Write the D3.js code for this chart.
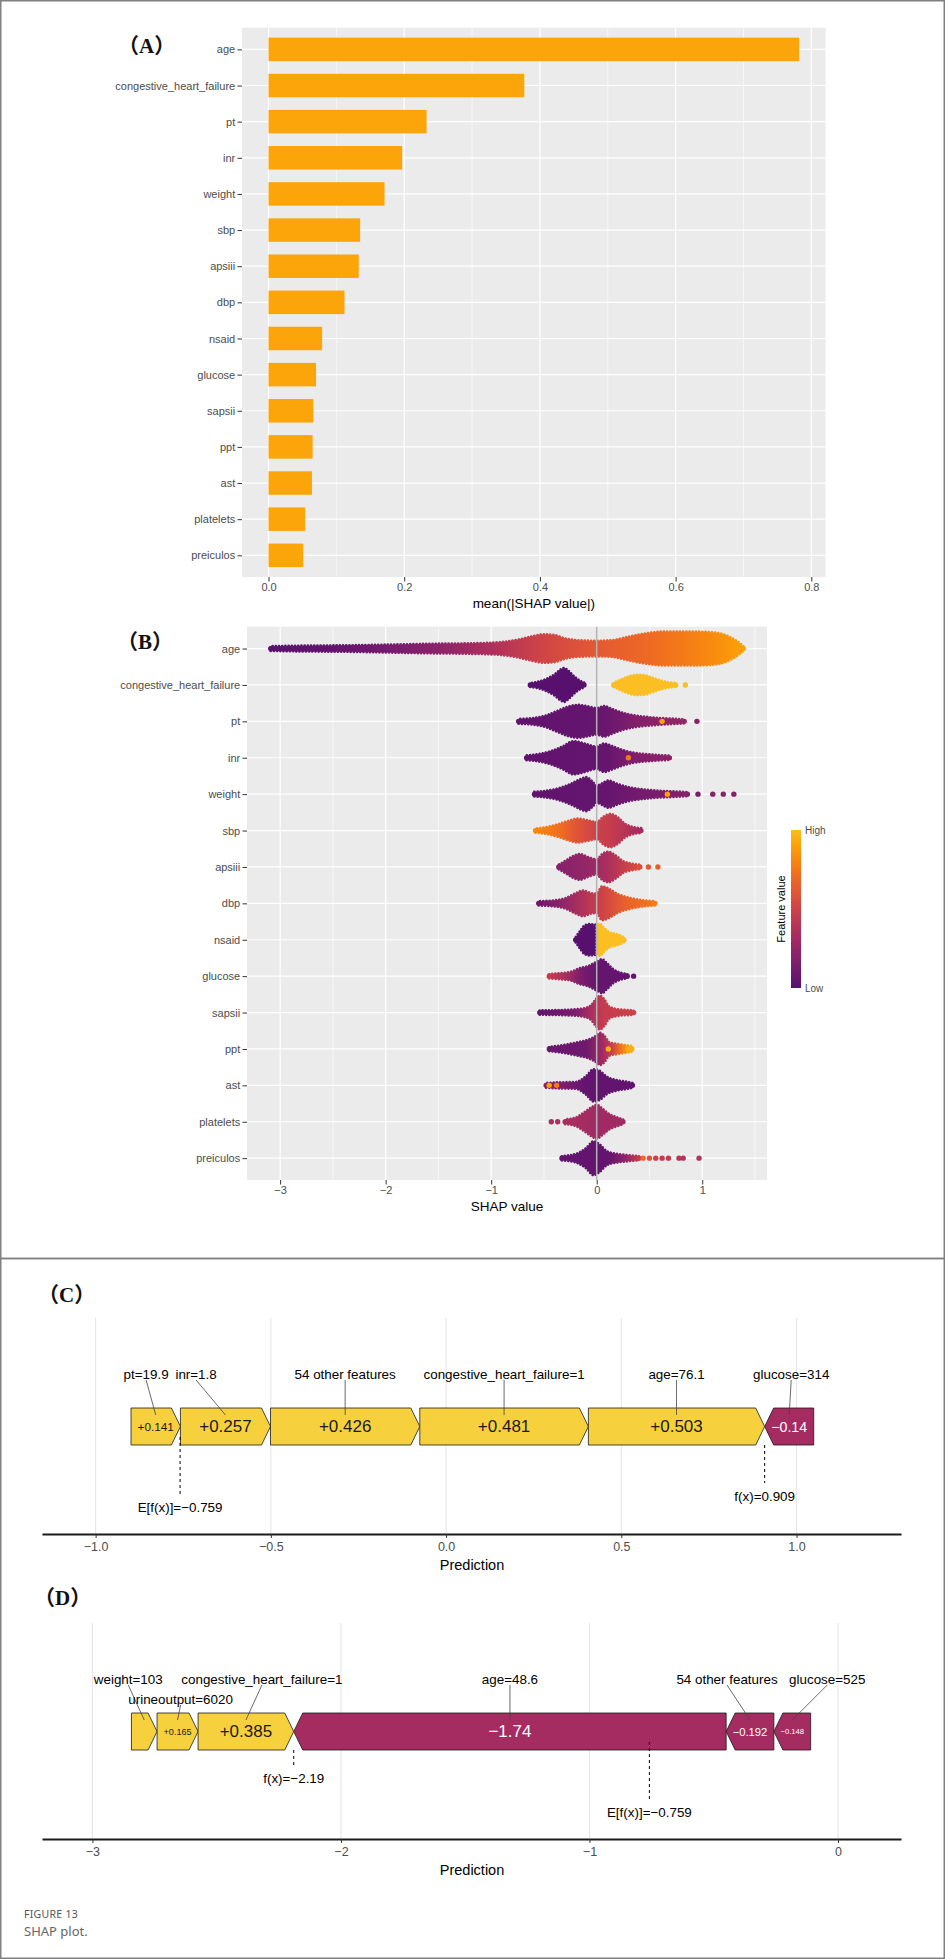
<!DOCTYPE html>
<html>
<head>
<meta charset="utf-8">
<script src="https://cdn.jsdelivr.net/npm/d3@7"></script>
<style>
  body { margin: 0; background: #fff; }
</style>
</head>
<body>
<svg id="chart" width="945" height="1959" font-family="'Liberation Sans',Arial,sans-serif"></svg>
<script>
// ---------- data ----------
const features = ["age", "congestive_heart_failure", "pt", "inr", "weight", "sbp", "apsiii", "dbp",
  "nsaid", "glucose", "sapsii", "ppt", "ast", "platelets", "preiculos"];
const meanAbsShap = [0.782, 0.377, 0.233, 0.197, 0.171, 0.135, 0.133, 0.112,
  0.079, 0.070, 0.066, 0.065, 0.064, 0.054, 0.051];
const importanceTicks = [0, 0.2, 0.4, 0.6, 0.8];
const importanceMinor = [0.1, 0.3, 0.5, 0.7];
const shapTicks = [-3, -2, -1, 0, 1];
const shapMinor = [-2.5, -1.5, -0.5, 0.5, 1.5];

// beeswarm outline: [feature, [[shap, relative density]], [[shap, feature value 0..1]]]
const swarmBlobs = [
  ["age",
    [[-3.09,0.14],[-2.8,0.17],[-2.4,0.19],[-2.0,0.23],[-1.6,0.28],[-1.2,0.31],[-0.95,0.36],[-0.75,0.52],
     [-0.6,0.74],[-0.5,0.84],[-0.4,0.8],[-0.3,0.6],[-0.15,0.48],[0.0,0.46],[0.15,0.5],[0.3,0.7],
     [0.45,0.88],[0.65,1.0],[0.9,1.0],[1.1,0.95],[1.22,0.8],[1.3,0.55],[1.36,0.3],[1.39,0.14]],
    [[-3.09,0.02],[-2.5,0.05],[-2.0,0.12],[-1.5,0.22],[-1.0,0.36],[-0.5,0.52],[0,0.62],[0.5,0.7],[1.0,0.8],[1.39,0.9]]],
  ["congestive_heart_failure",
    [[-0.63,0.12],[-0.55,0.2],[-0.47,0.38],[-0.4,0.62],[-0.34,0.92],[-0.31,1.0],[-0.27,0.85],[-0.22,0.55],[-0.17,0.3],[-0.12,0.14]],
    [[-0.63,0],[-0.12,0]]],
  ["congestive_heart_failure",
    [[0.16,0.12],[0.22,0.3],[0.3,0.5],[0.38,0.6],[0.45,0.58],[0.52,0.45],[0.6,0.28],[0.68,0.16],[0.75,0.12]],
    [[0.16,1],[0.75,1]]],
  ["pt",
    [[-0.74,0.14],[-0.6,0.2],[-0.48,0.35],[-0.38,0.6],[-0.28,0.85],[-0.18,0.97],[-0.08,0.88],[0.0,0.78],
     [0.07,0.9],[0.15,0.72],[0.25,0.5],[0.35,0.36],[0.5,0.25],[0.65,0.18],[0.78,0.14],[0.83,0.12]],
    [[-0.74,0.04],[-0.2,0.05],[0.1,0.08],[0.3,0.15],[0.55,0.22],[0.83,0.25]]],
  ["inr",
    [[-0.665,0.14],[-0.55,0.22],[-0.42,0.42],[-0.32,0.68],[-0.22,0.98],[-0.12,0.85],[0.0,0.66],[0.07,0.84],
     [0.15,0.68],[0.25,0.45],[0.35,0.3],[0.5,0.2],[0.62,0.15],[0.69,0.12]],
    [[-0.665,0.04],[0.1,0.06],[0.3,0.15],[0.69,0.22]]],
  ["weight",
    [[-0.59,0.14],[-0.48,0.2],[-0.36,0.35],[-0.25,0.6],[-0.15,0.9],[-0.1,1.0],[-0.04,0.75],[0.0,0.5],
     [0.04,0.6],[0.11,0.8],[0.2,0.6],[0.3,0.42],[0.45,0.28],[0.6,0.2],[0.75,0.16],[0.86,0.12]],
    [[-0.59,0.04],[0.1,0.06],[0.4,0.12],[0.86,0.2]]],
  ["sbp",
    [[-0.58,0.13],[-0.48,0.2],[-0.38,0.35],[-0.28,0.55],[-0.18,0.7],[-0.08,0.6],[0.0,0.5],[0.06,0.8],
     [0.13,0.98],[0.2,0.78],[0.27,0.4],[0.34,0.22],[0.42,0.14]],
    [[-0.58,0.82],[-0.35,0.72],[-0.2,0.6],[0,0.5],[0.15,0.45],[0.42,0.32]]],
  ["apsiii",
    [[-0.36,0.14],[-0.3,0.35],[-0.22,0.65],[-0.16,0.76],[-0.08,0.58],[0.0,0.45],[0.05,0.75],[0.11,0.9],
     [0.18,0.68],[0.25,0.35],[0.33,0.2],[0.41,0.13]],
    [[-0.36,0.2],[-0.1,0.25],[0.1,0.35],[0.3,0.5],[0.41,0.58]]],
  ["dbp",
    [[-0.55,0.13],[-0.4,0.18],[-0.3,0.3],[-0.2,0.6],[-0.13,0.76],[-0.05,0.6],[0.0,0.58],[0.05,1.0],
     [0.12,0.85],[0.2,0.55],[0.3,0.35],[0.4,0.22],[0.5,0.15],[0.55,0.13]],
    [[-0.55,0.1],[-0.3,0.25],[-0.1,0.4],[0.05,0.5],[0.25,0.65],[0.55,0.75]]],
  ["nsaid",
    [[-0.2,0.15],[-0.16,0.5],[-0.12,0.82],[-0.07,0.92],[-0.02,0.9],[0.0,0.85]],
    [[-0.2,0],[0,0]]],
  ["nsaid",
    [[0.0,0.85],[0.03,0.95],[0.07,0.7],[0.12,0.45],[0.18,0.35],[0.23,0.25],[0.26,0.14]],
    [[0,1],[0.26,1]]],
  ["glucose",
    [[-0.45,0.13],[-0.35,0.18],[-0.25,0.25],[-0.17,0.45],[-0.08,0.6],[0.0,0.85],[0.05,1.0],[0.1,0.75],
     [0.16,0.4],[0.22,0.22],[0.29,0.13]],
    [[-0.45,0.45],[-0.3,0.35],[-0.15,0.15],[0.0,0.06],[0.29,0.05]]],
  ["sapsii",
    [[-0.54,0.13],[-0.3,0.16],[-0.15,0.22],[-0.06,0.4],[0.0,0.85],[0.03,1.0],[0.07,0.8],[0.12,0.35],
     [0.2,0.2],[0.3,0.15],[0.35,0.13]],
    [[-0.54,0.05],[-0.2,0.15],[-0.05,0.35],[0.05,0.45],[0.35,0.5]]],
  ["ppt",
    [[-0.45,0.13],[-0.3,0.25],[-0.18,0.4],[-0.08,0.55],[0.0,0.8],[0.03,0.95],[0.07,0.8],[0.12,0.4],
     [0.2,0.3],[0.28,0.22],[0.33,0.18]],
    [[-0.45,0.08],[-0.1,0.1],[0.05,0.3],[0.15,0.5],[0.25,0.8],[0.33,0.95]]],
  ["ast",
    [[-0.48,0.14],[-0.35,0.18],[-0.2,0.2],[-0.1,0.55],[-0.03,0.95],[0.03,0.85],[0.1,0.5],[0.2,0.3],
     [0.3,0.2],[0.34,0.14]],
    [[-0.48,0.2],[-0.3,0.15],[-0.1,0.05],[0.34,0.05]]],
  ["platelets",
    [[-0.3,0.14],[-0.2,0.25],[-0.12,0.55],[-0.05,0.85],[0.0,1.0],[0.05,0.8],[0.12,0.45],[0.2,0.25],[0.25,0.14]],
    [[-0.3,0.35],[0,0.3],[0.25,0.3]]],
  ["preiculos",
    [[-0.33,0.13],[-0.2,0.25],[-0.1,0.6],[-0.03,1.0],[0.03,0.8],[0.1,0.4],[0.2,0.25],[0.3,0.18],[0.4,0.13]],
    [[-0.33,0.05],[0.1,0.05],[0.25,0.2],[0.4,0.45]]]
];
// single points outside the dense swarms: [feature, shap, feature value]
const swarmDots = [
  ["congestive_heart_failure", 0.84, 1], ["pt", 0.62, 0.9], ["pt", 0.95, 0.2], ["inr", 0.3, 0.75],
  ["weight", 0.67, 0.9], ["weight", 0.96, 0.15], ["weight", 1.1, 0.2], ["weight", 1.2, 0.2], ["weight", 1.3, 0.2],
  ["apsiii", 0.49, 0.62], ["apsiii", 0.58, 0.65], ["dbp", 0.55, 0.78], ["glucose", 0.35, 0.05],
  ["ppt", 0.11, 0.95], ["ppt", 0.3, 0.95], ["ast", -0.45, 0.9], ["ast", -0.38, 0.75],
  ["platelets", -0.43, 0.35], ["platelets", -0.37, 0.35],
  ["preiculos", 0.44, 0.7], ["preiculos", 0.5, 0.6], ["preiculos", 0.56, 0.5], ["preiculos", 0.62, 0.45],
  ["preiculos", 0.68, 0.45], ["preiculos", 0.78, 0.4], ["preiculos", 0.82, 0.4], ["preiculos", 0.97, 0.4]
];
const legendLabels = ["Low", "High"];

// force plot (C)
const forceCLabels = ["pt=19.9", "inr=1.8", "54 other features", "congestive_heart_failure=1", "age=76.1", "glucose=314"];
const forceCShap = [0.141, 0.257, 0.426, 0.481, 0.503, -0.14];
const forceCfx = 0.909;
const forceCBase = -0.759;
const forceCTicks = [-1.0, -0.5, 0.0, 0.5, 1.0];
// force plot (D)
const forceDLabels = ["weight=103", "urineoutput=6020", "congestive_heart_failure=1", "age=48.6", "54 other features", "glucose=525"];
const forceDShap = [0.103, 0.165, 0.385, -1.74, -0.192, -0.148];
const forceDfx = -2.19;
const forceDBase = -0.759;
const forceDTicks = [-3, -2, -1, 0];

// ---------- drawing ----------
const svg = d3.select("#chart");
const inferno = t => d3.interpolateInferno(0.25 + 0.6 * t);
const expand = ([a, b]) => [a - (b - a) * 0.05, b + (b - a) * 0.05];
const tickGray = "#4d4d4d";
const sans = "'Liberation Sans',Arial,sans-serif";

// page frames
svg.append("rect").attr("x", 0.75).attr("y", 0.75).attr("width", 943.5).attr("height", 1257.75)
  .attr("fill", "none").attr("stroke", "#808080").attr("stroke-width", 1.5);
svg.append("rect").attr("x", 0.75).attr("y", 1258.5).attr("width", 943.5).attr("height", 699.75)
  .attr("fill", "none").attr("stroke", "#808080").attr("stroke-width", 1.5);

function panelLabel(txt, x, y) {
  svg.append("text").attr("x", x).attr("y", y)
    .attr("font-family", "'Liberation Serif','Noto Sans CJK SC',serif")
    .attr("font-weight", "bold").attr("font-size", 21).attr("fill", "#111").text(txt);
}

function styleAxis(g, size) {
  g.select(".domain").remove();
  g.selectAll(".tick line").attr("stroke", "#333").attr("stroke-width", 1);
  g.selectAll(".tick text").attr("fill", tickGray).attr("font-size", size).attr("font-family", sans);
}

function ggPanel(p, x, y, ticks, minor) {
  svg.append("rect").attr("x", p.left).attr("y", p.top)
    .attr("width", p.right - p.left).attr("height", p.bottom - p.top).attr("fill", "#ebebeb");
  const grid = svg.append("g").attr("stroke", "#fff");
  grid.selectAll(null).data(minor).join("line")
    .attr("x1", d => x(d)).attr("x2", d => x(d)).attr("y1", p.top).attr("y2", p.bottom).attr("stroke-width", 0.6);
  grid.selectAll(null).data(ticks).join("line")
    .attr("x1", d => x(d)).attr("x2", d => x(d)).attr("y1", p.top).attr("y2", p.bottom).attr("stroke-width", 1.2);
  grid.selectAll(null).data(features).join("line")
    .attr("x1", p.left).attr("x2", p.right).attr("y1", d => y(d)).attr("y2", d => y(d)).attr("stroke-width", 1.2);
}

function ggAxes(p, x, y, ticks, fmt, title) {
  const ay = svg.append("g").attr("transform", `translate(${p.left},0)`)
    .call(d3.axisLeft(y).tickSize(4.5).tickPadding(2.3));
  styleAxis(ay, 11);
  const ax = svg.append("g").attr("transform", `translate(0,${p.bottom})`)
    .call(d3.axisBottom(x).tickValues(ticks).tickFormat(fmt).tickSize(4.5).tickPadding(1.8));
  styleAxis(ax, 11);
  svg.append("text").attr("x", (p.left + p.right) / 2).attr("y", p.bottom + 31)
    .attr("text-anchor", "middle").attr("font-size", 13.5).attr("fill", "#000").text(title);
}

// ---- (A) importance bars ----
const pA = { left: 242, right: 825.6, top: 27.7, bottom: 577 };
const xA = d3.scaleLinear().domain(expand([0, d3.max(meanAbsShap)])).range([pA.left, pA.right]);
const yA = d3.scalePoint().domain(features).range([pA.top, pA.bottom]).padding(0.6);
ggPanel(pA, xA, yA, importanceTicks, importanceMinor);
const barH = yA.step() * 0.65;
svg.append("g").selectAll("rect").data(features).join("rect")
  .attr("x", xA(0)).attr("y", d => yA(d) - barH / 2)
  .attr("width", (d, i) => xA(meanAbsShap[i]) - xA(0)).attr("height", barH)
  .attr("fill", "#fca50a");
ggAxes(pA, xA, yA, importanceTicks, d3.format(".1f"), "mean(|SHAP value|)");
panelLabel("（A）", 118, 53);

// ---- (B) beeswarm ----
const pB = { left: 247, right: 767, top: 626.7, bottom: 1180 };
const allShap = swarmBlobs.flatMap(b => b[1].map(d => d[0])).concat(swarmDots.map(d => d[1]));
const xB = d3.scaleLinear().domain(expand(d3.extent(allShap))).range([pB.left, pB.right]);
const yB = d3.scalePoint().domain(features).range([pB.top, pB.bottom]).padding(0.6);
const halfH = d3.scaleLinear().domain([0, 1]).range([0, 17]);
ggPanel(pB, xB, yB, shapTicks, shapMinor);

const defs = svg.append("defs");
const swarm = svg.append("g");
swarmBlobs.forEach(([feat, prof, cols], k) => {
  const cy = yB(feat);
  const x1 = xB(prof[0][0]), x2 = xB(prof[prof.length - 1][0]);
  const id = "sw" + k;
  const grad = defs.append("linearGradient").attr("id", id)
    .attr("gradientUnits", "userSpaceOnUse").attr("x1", x1).attr("x2", x2).attr("y1", 0).attr("y2", 0);
  grad.selectAll("stop").data(cols).join("stop")
    .attr("offset", d => (xB(d[0]) - x1) / (x2 - x1))
    .attr("stop-color", d => inferno(d[1]));
  const area = d3.area().x(d => xB(d[0]))
    .y0(d => cy - halfH(d[1])).y1(d => cy + halfH(d[1])).curve(d3.curveMonotoneX);
  swarm.append("path").attr("d", area(prof)).attr("fill", `url(#${id})`)
    .attr("stroke", `url(#${id})`).attr("stroke-width", 2.6)
    .attr("stroke-linecap", "round").attr("stroke-dasharray", "0.1 3.1");
  // rounded tips like the outermost points (only where the swarm is thin)
  [[prof[0], cols[0]], [prof[prof.length - 1], cols[cols.length - 1]]]
    .filter(([p]) => p[1] < 0.3)
    .forEach(([p, c]) => {
      swarm.append("circle").attr("cx", xB(p[0])).attr("cy", cy)
        .attr("r", Math.max(2.6, halfH(p[1]))).attr("fill", inferno(c[1]));
    });
});
swarm.selectAll("circle.dot").data(swarmDots).join("circle").attr("class", "dot")
  .attr("cx", d => xB(d[1])).attr("cy", d => yB(d[0])).attr("r", 2.7)
  .attr("fill", d => inferno(d[2]));
svg.append("line").attr("x1", xB(0)).attr("x2", xB(0)).attr("y1", pB.top).attr("y2", pB.bottom)
  .attr("stroke", "#b3b3b3").attr("stroke-width", 1.5);
ggAxes(pB, xB, yB, shapTicks, d3.format("d"), "SHAP value");
panelLabel("（B）", 117, 649);

// legend
const leg = { x: 791, w: 10, top: 830, bottom: 988 };
const lgScale = d3.scaleLinear().domain([0, 1]).range([leg.bottom, leg.top]);
const lg = defs.append("linearGradient").attr("id", "legGrad")
  .attr("x1", 0).attr("x2", 0).attr("y1", 1).attr("y2", 0);
lg.selectAll("stop").data(d3.range(0, 1.01, 0.1)).join("stop")
  .attr("offset", d => d).attr("stop-color", d => inferno(d));
svg.append("rect").attr("x", leg.x).attr("y", leg.top).attr("width", leg.w)
  .attr("height", leg.bottom - leg.top).attr("fill", "url(#legGrad)");
svg.selectAll("text.leglab").data(legendLabels).join("text").attr("class", "leglab")
  .attr("x", leg.x + leg.w + 4).attr("y", (d, i) => lgScale(i) + 3.5)
  .attr("font-size", 10).attr("fill", tickGray).text(d => d);
svg.append("text").attr("transform", `translate(${leg.x - 6},${(leg.top + leg.bottom) / 2}) rotate(-90)`)
  .attr("text-anchor", "middle").attr("font-size", 11).attr("fill", "#000").text("Feature value");

// ---- (C) and (D) force plots ----
function drawForce(p) {
  const g = svg.append("g");
  const x = d3.scaleLinear().domain(p.domain).range([42, 901]);
  g.selectAll("line.grid").data(p.ticks).join("line").attr("class", "grid")
    .attr("x1", d => x(d)).attr("x2", d => x(d)).attr("y1", p.top).attr("y2", p.axisY)
    .attr("stroke", "#e6e6e6").attr("stroke-width", 1.1);

  let lo = p.fx - d3.sum(p.shap.filter(v => v > 0)), hi = p.fx;
  const segs = p.shap.map((v, i) => {
    let a, b;
    if (v > 0) { a = lo; b = lo + v; lo = b; } else { a = hi; b = hi - v; hi = b; }
    return { v, a, b, label: p.labels[i], i };
  });
  const bh = 37, head = 9, cy = p.barY, top = cy - bh / 2, bot = cy + bh / 2;
  const arrow = s => {
    const x0 = x(s.a), x1 = x(s.b), h = Math.min(head, x1 - x0);
    return s.v > 0
      ? [[x0, top], [x1 - h, top], [x1, cy], [x1 - h, bot], [x0, bot]]
      : [[x1, top], [x0 + h, top], [x0, cy], [x0 + h, bot], [x1, bot]];
  };
  g.selectAll("path.seg").data(segs).join("path").attr("class", "seg")
    .attr("d", s => d3.line()(arrow(s)) + "Z")
    .attr("fill", s => s.v > 0 ? "#f7d13d" : "#a52c60")
    .attr("stroke", "#1a1a1a").attr("stroke-width", 0.8);

  const fmt = d3.format("+.3~g");
  segs.forEach(s => {
    const x0 = x(s.a), x1 = x(s.b);
    const t = g.append("text").attr("x", (x0 + x1) / 2).attr("y", cy)
      .attr("text-anchor", "middle").attr("dominant-baseline", "central")
      .attr("font-size", 17).attr("fill", s.v > 0 ? "#1a1a1a" : "#fff").text(fmt(s.v));
    const avail = x1 - x0 - head - 4, len = t.node().getComputedTextLength();
    if (len > avail) {
      const fs = 17 * avail / len;
      if (fs < 7) t.remove(); else t.attr("font-size", fs);
    }
  });

  segs.forEach(s => {
    const cx = x((s.a + s.b) / 2), lx = cx + p.nudge[s.i], ly = p.labelY + p.row[s.i] * 20;
    g.append("line").attr("x1", lx).attr("y1", ly + 6).attr("x2", cx).attr("y2", top + 7)
      .attr("stroke", "#444").attr("stroke-width", 0.8);
    g.append("text").attr("x", lx).attr("y", ly + 4.8).attr("text-anchor", "middle")
      .attr("font-size", 13.4).attr("fill", "#000").text(s.label);
  });

  const num = d3.format(".3~g");
  const fxX = x(p.fx), baseX = x(p.base);
  g.append("line").attr("x1", fxX).attr("x2", fxX).attr("y1", bot).attr("y2", bot + p.fxGap - 13)
    .attr("stroke", "#000").attr("stroke-dasharray", "3,3");
  g.append("text").attr("x", fxX).attr("y", bot + p.fxGap + 4.8).attr("text-anchor", "middle")
    .attr("font-size", 13.4).text("f(x)=" + num(p.fx));
  g.append("line").attr("x1", baseX).attr("x2", baseX).attr("y1", bot - 8).attr("y2", bot + 50)
    .attr("stroke", "#000").attr("stroke-dasharray", "3,3");
  g.append("text").attr("x", baseX).attr("y", bot + 66.8).attr("text-anchor", "middle")
    .attr("font-size", 13.4).text("E[f(x)]=" + num(p.base));

  const ax = g.append("g").attr("transform", `translate(0,${p.axisY})`)
    .call(d3.axisBottom(x).tickValues(p.ticks).tickFormat(p.tickFmt).tickSize(4).tickSizeOuter(0).tickPadding(4.5));
  ax.select(".domain").attr("stroke", "#1a1a1a").attr("stroke-width", 2.2);
  ax.selectAll(".tick line").attr("stroke", "#333");
  ax.selectAll(".tick text").attr("fill", tickGray).attr("font-size", 12.5).attr("font-family", sans);
  g.append("text").attr("x", 472).attr("y", p.axisY + 36).attr("text-anchor", "middle")
    .attr("font-size", 14.5).attr("fill", "#000").text("Prediction");
}

drawForce({
  labels: forceCLabels, shap: forceCShap, fx: forceCfx, base: forceCBase, ticks: forceCTicks,
  tickFmt: d3.format(".1f"), domain: [-1.153, 1.298],
  top: 1318, labelY: 1374, barY: 1426.5, axisY: 1534, fxGap: 51,
  nudge: [-9.6, -29.4, 0, 0, 0, 2], row: [0, 0, 0, 0, 0, 0]
});
drawForce({
  labels: forceDLabels, shap: forceDShap, fx: forceDfx, base: forceDBase, ticks: forceDTicks,
  tickFmt: d3.format("d"), domain: [-3.203, 0.2535],
  top: 1623, labelY: 1679, barY: 1731.5, axisY: 1839, fxGap: 28,
  nudge: [-16, 3, 16, 0, -23, 35], row: [0, 1, 0, 0, 0, 0]
});
panelLabel("（C）", 38, 1302);
panelLabel("（D）", 34, 1605);

// caption
svg.append("text").attr("x", 24).attr("y", 1918).attr("font-family", "'Noto Sans',sans-serif")
  .attr("font-size", 10.5).attr("letter-spacing", 0.3).attr("fill", "#555").text("FIGURE 13");
svg.append("text").attr("x", 24).attr("y", 1936).attr("font-family", "'Noto Sans',sans-serif")
  .attr("font-size", 13).attr("fill", "#666").text("SHAP plot.");
</script>
</body>
</html>
